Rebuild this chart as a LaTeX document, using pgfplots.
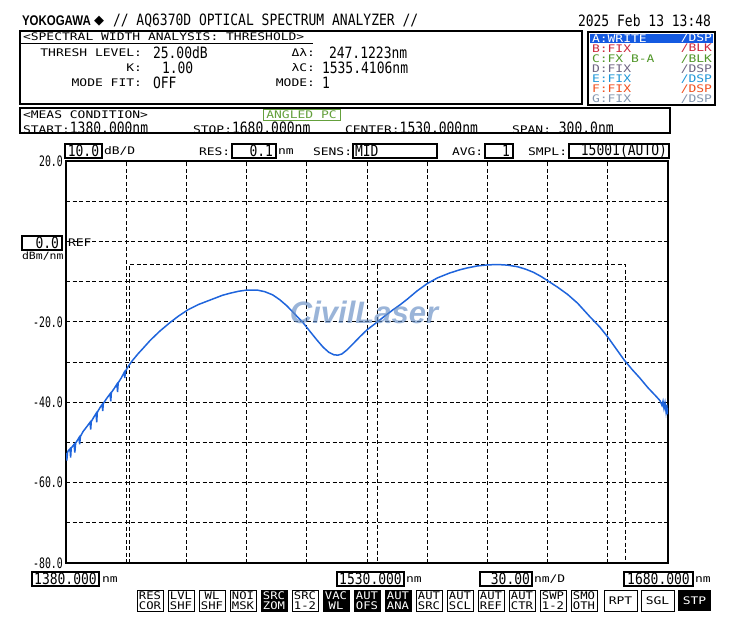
\documentclass[border=0pt]{standalone}
\usepackage{pgfplots}
\pgfplotsset{compat=1.18}
\usepackage{fontspec}
\usepackage{graphicx}
\setmainfont{DejaVu Sans}
\newfontfamily\mono{DejaVu Sans Mono}
\newfontfamily\lib{Liberation Sans}
\newfontfamily\djsans{DejaVu Sans}
\newcommand\M[4]{\scalebox{#2}[#3]{\fontsize{#1}{#1}\selectfont\mono #4}}
\newcommand\Bg[1]{\M{13}{1.0}{1.2}{#1}}
\newcommand\Sm[1]{\M{11}{1.18}{0.95}{#1}}
\newcommand\YL[1]{\M{12}{0.82}{1.2}{#1}}
\newcommand\Bt[1]{\M{10}{1.22}{1.05}{#1}}
\definecolor{trace}{RGB}{30,100,220}
\definecolor{hl}{RGB}{20,90,225}
\definecolor{cB}{RGB}{205,40,60}
\definecolor{cC}{RGB}{80,150,40}
\definecolor{cD}{RGB}{110,100,130}
\definecolor{cE}{RGB}{30,150,215}
\definecolor{cF}{RGB}{240,80,30}
\definecolor{cG}{RGB}{130,150,175}
\definecolor{angled}{RGB}{100,160,60}
\definecolor{wm}{RGB}{100,140,195}
\newcommand\btnW[3]{\draw[line width=0.9pt] (#1,590) rectangle ++(26,21);
  \node at (#1+13,595.5) {\Bt{#2}}; \node at (#1+13,605.5) {\Bt{#3}};}
\newcommand\btnB[3]{\draw[line width=0.9pt, fill=black] (#1,590) rectangle ++(26,21);
  \node[text=white] at (#1+13,595.5) {\Bt{#2}}; \node[text=white] at (#1+13,605.5) {\Bt{#3}};}
\begin{document}
\begin{tikzpicture}
\path[use as bounding box] (0pt,0pt) rectangle (730pt,-621pt);
\begin{axis}[at={(66pt,-161pt)}, anchor=north west,
  width=602pt, height=402pt, scale only axis,
  xmin=1380, xmax=1680, ymin=-80, ymax=20,
  xtick={1380,1410,...,1680}, xticklabels={},
  ytick={-80,-70,...,20},
  yticklabels={\YL{-80.0},,\YL{-60.0},,\YL{-40.0},,\YL{-20.0},,,,\YL{20.0}},
  yticklabel style={anchor=east, inner sep=0pt, xshift=-3pt},
  major tick length=0pt,
  grid=major,
  major grid style={black, line width=0.9pt, dash pattern=on 4pt off 2.5pt},
  axis line style={line width=2pt},
  clip=true]
\addplot[black, line width=0.9pt, dash pattern=on 4pt off 2.5pt] coordinates {(1411.85,-80)(1411.85,-5.75)(1658.97,-5.75)(1658.97,-80)};
\addplot[black, line width=0.9pt, dash pattern=on 4pt off 2.5pt] coordinates {(1535.41,-5.75)(1535.41,-80)};
\addplot[trace, line width=1.5pt] coordinates {
(1380.0,-52.6)(1380.4,-54.5)(1380.8,-52.3)(1382.0,-51.6)(1382.3,-53.8)(1382.6,-51.4)
(1384.0,-50.5)(1384.4,-52.5)(1384.8,-50.2)(1386.5,-48.8)(1386.8,-50.5)(1387.2,-48.5)
(1388.5,-47.3)(1390.5,-46.0)(1392.0,-45.0)(1392.3,-46.8)(1392.6,-44.8)(1394.0,-43.6)
(1395.0,-42.8)(1395.3,-45.0)(1395.6,-42.5)(1397.0,-41.3)(1398.0,-40.6)(1398.3,-42.2)
(1398.6,-40.3)(1400.5,-38.9)(1402.0,-37.9)(1402.3,-39.8)(1402.6,-37.6)(1404.0,-36.6)
(1405.4,-35.5)(1405.7,-37.5)(1406.0,-35.2)(1407.5,-34.0)(1409.0,-32.6)(1409.3,-34.0)
(1409.6,-32.3)(1411.0,-31.1)(1413.0,-29.7)(1416,-27.9)(1418.4,-26.6)(1422,-24.6)
(1426.8,-22.3)(1431.8,-20.2)(1436,-18.6)(1440.8,-17.0)(1446,-15.7)(1453.3,-14.3)
(1458,-13.4)(1461.7,-12.9)(1466,-12.4)(1470.2,-12.1)(1475.2,-12.1)(1479,-12.5)
(1483,-13.3)(1486.5,-14.5)(1490,-16.0)(1493.1,-17.6)(1496,-19.1)(1498.1,-20.2)
(1501.6,-22.4)(1505,-24.5)(1508.1,-26.3)(1511,-27.6)(1513.5,-28.2)(1515.5,-28.3)
(1517.5,-28.0)(1520.0,-27.0)(1523,-25.5)(1526.5,-23.7)(1530,-22.0)(1535.0,-20.1)
(1539,-18.5)(1543,-17.0)(1546.4,-15.8)(1550,-14.4)(1555,-12.3)(1560,-10.5)
(1565,-9.1)(1571,-7.9)(1576,-7.1)(1580,-6.6)(1585,-6.1)(1590,-5.85)(1595,-5.75)
(1600,-5.9)(1605,-6.3)(1609,-6.9)(1613,-7.7)(1617,-8.8)(1621,-10.1)(1625,-11.4)
(1630,-13.2)(1635,-15.4)(1641,-18.7)(1646,-21.3)(1650,-23.8)(1654,-26.6)
(1658,-29.4)(1662,-31.8)(1666,-34.0)(1670,-36.4)(1674,-38.5)(1676,-39.6)
(1677,-40.8)(1677.5,-39.8)(1678,-41.5)(1678.5,-40.2)(1679,-42.3)(1679.4,-40.6)
(1679.7,-43.0)(1680,-41.5)};
\end{axis}
\begin{scope}[x=1pt,y=-1pt, every node/.style={inner sep=0pt, outer sep=0pt}]
% header
\node[anchor=west] at (22,21) {\scalebox{0.82}[1]{\fontsize{14}{14}\selectfont\lib\bfseries YOKOGAWA}};
\node[anchor=west] at (94,21) {\fontsize{13}{13}\selectfont\djsans ◆};
\node[anchor=west] at (113,21) {\Bg{// AQ6370D OPTICAL SPECTRUM ANALYZER //}};
\node[anchor=west] at (578,21) {\Bg{2025 Feb 13 13:48}};
% analysis box
\draw[line width=1.5pt] (20,31) rectangle (582,104);
\node[anchor=west] at (23,37) {\Sm{<SPECTRAL WIDTH ANALYSIS: THRESHOLD>}};
\draw[line width=1pt] (20,43) -- (313,43);
\node[anchor=east] at (142,53) {\Sm{THRESH LEVEL:}};
\node[anchor=east] at (142,68) {\Sm{K:}};
\node[anchor=east] at (142,83) {\Sm{MODE FIT:}};
\node[anchor=west] at (153,53) {\Bg{25.00dB}};
\node[anchor=west] at (162,68) {\Bg{1.00}};
\node[anchor=west] at (153,83) {\Bg{OFF}};
\node[anchor=east] at (315,53) {\Sm{Δλ:}};
\node[anchor=east] at (315,68) {\Sm{λC:}};
\node[anchor=east] at (315,83) {\Sm{MODE:}};
\node[anchor=west] at (329,53) {\Bg{247.1223nm}};
\node[anchor=west] at (322,68) {\Bg{1535.4106nm}};
\node[anchor=west] at (322,83) {\Bg{1}};
% trace box
\draw[line width=1.5pt] (588,32) rectangle (715,105);
\fill[hl] (590,34) rectangle (713,43);
\node[anchor=west,text=white] at (592,38.5) {\Sm{A:WRITE}};
\node[anchor=east,text=white] at (712,38.5) {\Sm{/DSP}};
\node[anchor=west,text=cB] at (592,48.6) {\Sm{B:FIX}};
\node[anchor=east,text=cB] at (712,48.6) {\Sm{/BLK}};
\node[anchor=west,text=cC] at (592,58.7) {\Sm{C:FX B-A}};
\node[anchor=east,text=cC] at (712,58.7) {\Sm{/BLK}};
\node[anchor=west,text=cD] at (592,68.8) {\Sm{D:FIX}};
\node[anchor=east,text=cD] at (712,68.8) {\Sm{/DSP}};
\node[anchor=west,text=cE] at (592,78.9) {\Sm{E:FIX}};
\node[anchor=east,text=cE] at (712,78.9) {\Sm{/DSP}};
\node[anchor=west,text=cF] at (592,89.0) {\Sm{F:FIX}};
\node[anchor=east,text=cF] at (712,89.0) {\Sm{/DSP}};
\node[anchor=west,text=cG] at (592,99.1) {\Sm{G:FIX}};
\node[anchor=east,text=cG] at (712,99.1) {\Sm{/DSP}};
% meas condition
\draw[line width=1.5pt] (20,108) rectangle (670,133);
\node[anchor=west] at (23,115) {\Sm{<MEAS CONDITION>}};
\draw[angled, line width=1pt] (263,109.5) rectangle (340,120);
\node[text=angled] at (301.5,114.8) {\Sm{ANGLED PC}};
\node[anchor=west] at (23,127.5) {\Sm{START:}\Bg{1380.000nm}};
\node[anchor=west] at (193,127.5) {\Sm{STOP:}\Bg{1680.000nm}};
\node[anchor=west] at (345,127.5) {\Sm{CENTER:}\Bg{1530.000nm}};
\node[anchor=west] at (512,127.5) {\Sm{SPAN: }\Bg{300.0nm}};
% plot header row
\draw[line width=1.2pt] (65,144) rectangle (102,158);
\node at (83.5,151) {\Bg{10.0}};
\node[anchor=west] at (104,151.5) {\Sm{dB/D}};
\node[anchor=west] at (199,151.5) {\Sm{RES:}};
\draw[line width=1.2pt] (232,144) rectangle (276,158);
\node[anchor=east] at (273,151) {\Bg{0.1}};
\node[anchor=west] at (278,151.5) {\Sm{nm}};
\node[anchor=west] at (313,151.5) {\Sm{SENS:}};
\draw[line width=1.2pt] (353,144) rectangle (437,158);
\node[anchor=west] at (355,151) {\Bg{MID}};
\node[anchor=west] at (452,151.5) {\Sm{AVG:}};
\draw[line width=1.2pt] (485,144) rectangle (513,158);
\node[anchor=east] at (510,151) {\Bg{1}};
\node[anchor=west] at (528,151.5) {\Sm{SMPL:}};
\draw[line width=1.2pt] (569,144) rectangle (669,158);
\node[anchor=east] at (667,151) {\Bg{15001(AUTO)}};
% ref
\draw[line width=1.2pt] (22,236) rectangle (62,250);
\node[anchor=east] at (59,243) {\Bg{0.0}};
\node[anchor=west] at (22,256) {\M{10}{1.15}{1.0}{dBm/nm}};
\node[anchor=west] at (68,243) {\Sm{REF}};
% bottom row
\draw[line width=1.2pt] (32,572) rectangle (99,586);
\node at (65.5,579) {\Bg{1380.000}};
\node[anchor=west] at (102,579.5) {\Sm{nm}};
\draw[line width=1.2pt] (337,572) rectangle (404,586);
\node at (370.5,579) {\Bg{1530.000}};
\node[anchor=west] at (406,579.5) {\Sm{nm}};
\draw[line width=1.2pt] (480,572) rectangle (532,586);
\node[anchor=east] at (530,579) {\Bg{30.00}};
\node[anchor=west] at (534,579.5) {\Sm{nm/D}};
\draw[line width=1.2pt] (624,572) rectangle (693,586);
\node at (658.5,579) {\Bg{1680.000}};
\node[anchor=west] at (695,579.5) {\Sm{nm}};
% soft keys
\btnW{137}{RES}{COR}
\btnW{168}{LVL}{SHF}
\btnW{199}{WL}{SHF}
\btnW{230}{NOI}{MSK}
\btnB{261}{SRC}{ZOM}
\btnW{292}{SRC}{1-2}
\btnB{323}{VAC}{WL}
\btnB{354}{AUT}{OFS}
\btnB{385}{AUT}{ANA}
\btnW{416}{AUT}{SRC}
\btnW{447}{AUT}{SCL}
\btnW{478}{AUT}{REF}
\btnW{509}{AUT}{CTR}
\btnW{540}{SWP}{1-2}
\btnW{571}{SMO}{OTH}
\draw[line width=0.9pt] (604,590) rectangle (637,611);
\node at (620.5,600.5) {\Sm{RPT}};
\draw[line width=0.9pt] (641,590) rectangle (674,611);
\node at (657.5,600.5) {\Sm{SGL}};
\fill[black] (678,590) rectangle (711,611);
\node[text=white] at (694.5,600.5) {\Sm{STP}};
% watermark
\node[opacity=0.65, text=wm] at (364,312) {\fontsize{31}{31}\selectfont\lib\bfseries\itshape CivilLaser};
\end{scope}
\end{tikzpicture}
\end{document}
